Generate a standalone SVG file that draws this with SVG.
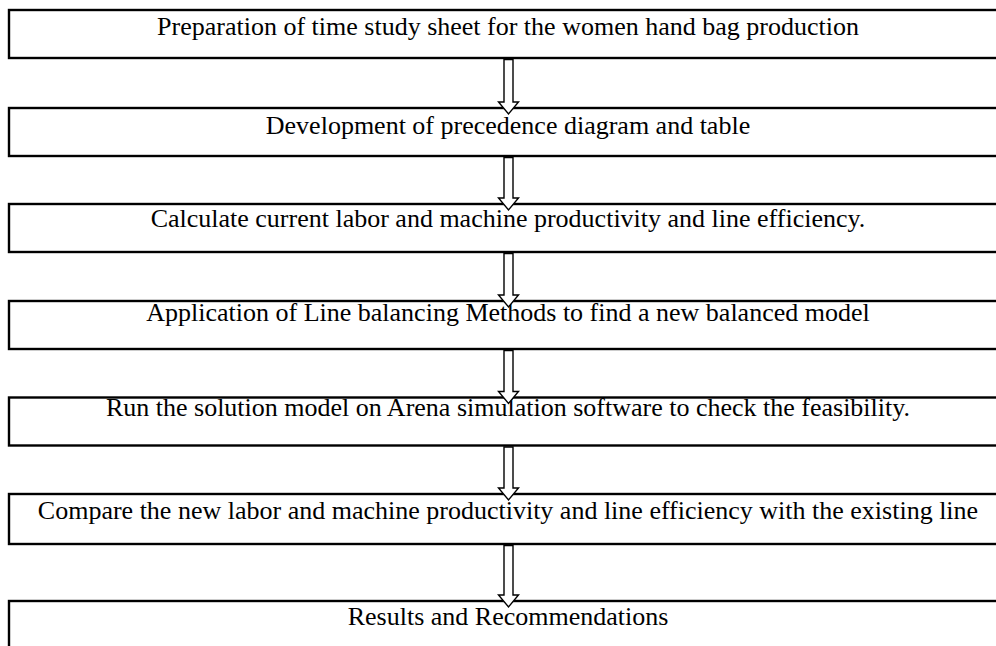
<svg xmlns="http://www.w3.org/2000/svg" width="996" height="646" viewBox="0 0 996 646">
  <style>
    .box { fill: #fff; stroke: #000; stroke-width: 2.4; }
    .label { font-family: "Liberation Serif", "Times New Roman", serif; font-size: 26px; fill: #000; text-anchor: middle; }
    .arrow { fill: #fff; stroke: #000; stroke-width: 1.4; stroke-linejoin: miter; }
  </style>

  <g id="step1">
    <rect class="box" x="9" y="10" width="1000" height="48"/>
    <text class="label" x="508" y="35">Preparation of time study sheet for the women hand bag production</text>
  </g>
  <g id="step2">
    <rect class="box" x="9" y="108" width="1000" height="48"/>
    <text class="label" x="508" y="134">Development of precedence diagram and table</text>
  </g>
  <g id="step3">
    <rect class="box" x="9" y="204" width="1000" height="48"/>
    <text class="label" x="508" y="227">Calculate current labor and machine productivity and line efficiency.</text>
  </g>
  <g id="step4">
    <rect class="box" x="9" y="301" width="1000" height="48"/>
    <text class="label" x="508" y="321">Application of Line balancing Methods to find a new balanced model</text>
  </g>
  <g id="step5">
    <rect class="box" x="9" y="397.5" width="1000" height="48"/>
    <text class="label" x="508" y="416">Run the solution model on Arena simulation software to check the feasibility.</text>
  </g>
  <g id="step6">
    <rect class="box" x="9" y="494" width="1000" height="50"/>
    <text class="label" x="508" y="519">Compare the new labor and machine productivity and line efficiency with the existing line</text>
  </g>
  <g id="step7">
    <rect class="box" x="9" y="601" width="1000" height="80"/>
    <text class="label" x="508" y="625">Results and Recommendations</text>
  </g>

  <!-- hollow block arrows: shaft 9px wide, head 20px wide -->
  <g id="connectors" class="arrow">
    <path d="M504,59.5 L513,59.5 L513,102 L518.5,102 L508.5,114 L498.5,102 L504,102 Z"/>
    <path d="M504,157.5 L513,157.5 L513,198 L518.5,198 L508.5,210 L498.5,198 L504,198 Z"/>
    <path d="M504,253.5 L513,253.5 L513,295 L518.5,295 L508.5,307 L498.5,295 L504,295 Z"/>
    <path d="M504,350.5 L513,350.5 L513,391.5 L518.5,391.5 L508.5,403.5 L498.5,391.5 L504,391.5 Z"/>
    <path d="M504,447 L513,447 L513,488 L518.5,488 L508.5,500 L498.5,488 L504,488 Z"/>
    <path d="M504,545.5 L513,545.5 L513,595 L518.5,595 L508.5,607 L498.5,595 L504,595 Z"/>
  </g>
</svg>
